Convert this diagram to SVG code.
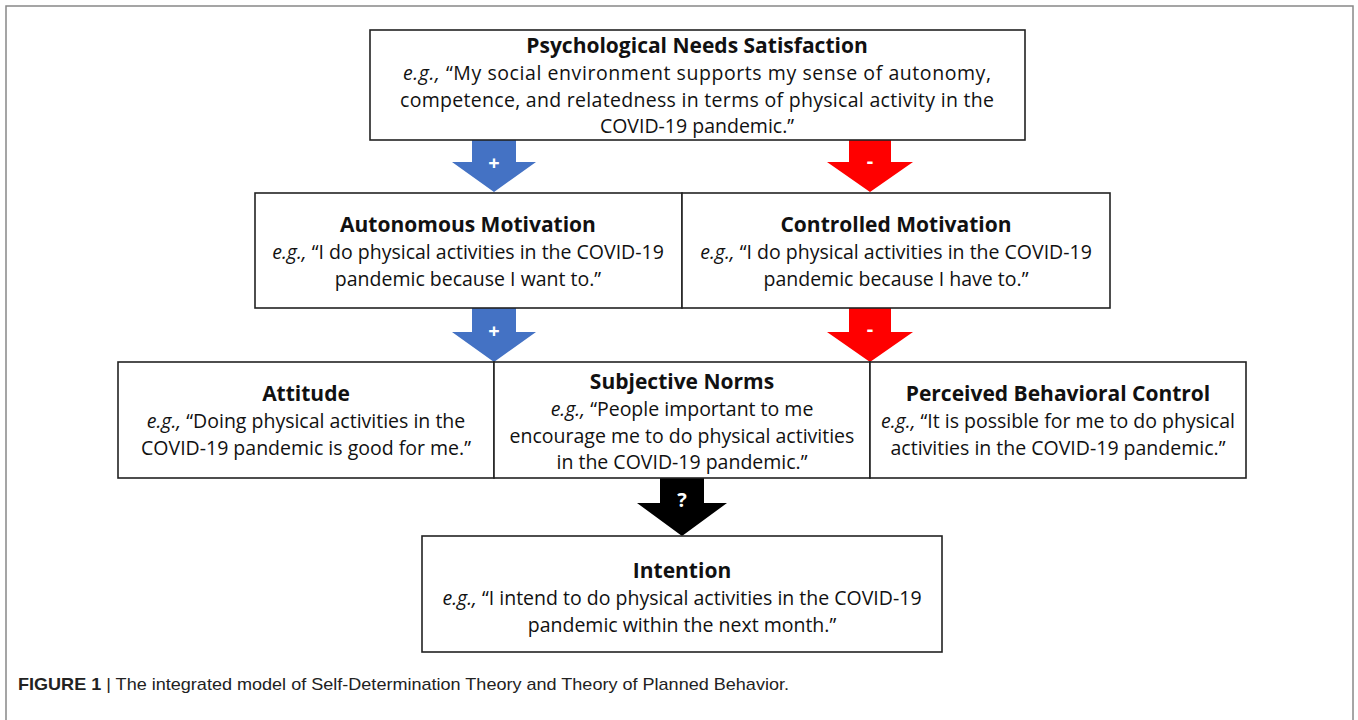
<svg xmlns="http://www.w3.org/2000/svg" width="1358" height="720" viewBox="0 0 1358 720">
<style>
.box{fill:#fff;stroke:#222;stroke-width:1.6}
.t{font-family:"Open Sans","Noto Sans",sans-serif;font-size:19.5px;fill:#111;text-anchor:middle}
.h{font-weight:bold;font-size:21px}
.i{font-style:italic}
.sign{font-family:"Open Sans","Noto Sans",sans-serif;font-weight:bold;font-size:20px;fill:#fff;text-anchor:middle}
.cap{font-family:"Liberation Sans Narrow","Liberation Sans",sans-serif;font-size:17px;fill:#222}
</style>
<rect x="0" y="0" width="1358" height="720" fill="#fff"/>
<rect x="6" y="6" width="1347" height="730" fill="none" stroke="#888" stroke-width="1.5"/>

<g id="connectors">
<polygon points="472,140 516,140 516,162 536,162 494,192 452,162 472,162" fill="#4472C4"/>
<text class="sign" x="494" y="170">+</text>
<polygon points="849,140 891,140 891,162 913,162 870,192 827,162 849,162" fill="#FF0000"/>
<text class="sign" x="870" y="168">-</text>
<polygon points="472,308 516,308 516,332 536,332 494,362 452,332 472,332" fill="#4472C4"/>
<text class="sign" x="494" y="338">+</text>
<polygon points="849,308 891,308 891,332 913,332 870,362 827,332 849,332" fill="#FF0000"/>
<text class="sign" x="870" y="336">-</text>
<polygon points="660,478 704,478 704,503 727,503 682,536 637,503 660,503" fill="#000"/>
<text class="sign" x="682" y="507">?</text>
</g>

<g id="psychological-needs">
<rect class="box" x="370" y="30" width="655" height="110"/>
<text class="t h" x="697" y="53">Psychological Needs Satisfaction</text>
<text class="t" x="697" y="80" textLength="588" lengthAdjust="spacing"><tspan class="i">e.g.,</tspan> “My social environment supports my sense of autonomy,</text>
<text class="t" x="697" y="106.5" textLength="594" lengthAdjust="spacing">competence, and relatedness in terms of physical activity in the</text>
<text class="t" x="697" y="133">COVID-19 pandemic.”</text>
</g>

<g id="autonomous-motivation">
<rect class="box" x="255" y="193" width="427" height="115"/>
<text class="t h" x="468" y="232">Autonomous Motivation</text>
<text class="t" x="468" y="259"><tspan class="i">e.g.,</tspan> “I do physical activities in the COVID-19</text>
<text class="t" x="468" y="285.5">pandemic because I want to.”</text>
</g>

<g id="controlled-motivation">
<rect class="box" x="682" y="193" width="428" height="115"/>
<text class="t h" x="896" y="232">Controlled Motivation</text>
<text class="t" x="896" y="259"><tspan class="i">e.g.,</tspan> “I do physical activities in the COVID-19</text>
<text class="t" x="896" y="285.5">pandemic because I have to.”</text>
</g>

<g id="attitude">
<rect class="box" x="118" y="362" width="376" height="116"/>
<text class="t h" x="306" y="401">Attitude</text>
<text class="t" x="306" y="428"><tspan class="i">e.g.,</tspan> “Doing physical activities in the</text>
<text class="t" x="306" y="454.5">COVID-19 pandemic is good for me.”</text>
</g>

<g id="subjective-norms">
<rect class="box" x="494" y="362" width="376" height="116"/>
<text class="t h" x="682" y="389">Subjective Norms</text>
<text class="t" x="682" y="416"><tspan class="i">e.g.,</tspan> “People important to me</text>
<text class="t" x="682" y="442.5">encourage me to do physical activities</text>
<text class="t" x="682" y="469">in the COVID-19 pandemic.”</text>
</g>

<g id="perceived-behavioral-control">
<rect class="box" x="870" y="362" width="376" height="116"/>
<text class="t h" x="1058" y="401">Perceived Behavioral Control</text>
<text class="t" x="1058" y="428"><tspan class="i">e.g.,</tspan> “It is possible for me to do physical</text>
<text class="t" x="1058" y="454.5">activities in the COVID-19 pandemic.”</text>
</g>

<g id="intention">
<rect class="box" x="422" y="536" width="520" height="116"/>
<text class="t h" x="682" y="578">Intention</text>
<text class="t" x="682" y="605"><tspan class="i">e.g.,</tspan> “I intend to do physical activities in the COVID-19</text>
<text class="t" x="682" y="631.5">pandemic within the next month.”</text>
</g>

<text class="cap" x="18" y="690" textLength="771" lengthAdjust="spacingAndGlyphs"><tspan font-weight="bold">FIGURE 1</tspan> | The integrated model of Self-Determination Theory and Theory of Planned Behavior.</text>
</svg>
